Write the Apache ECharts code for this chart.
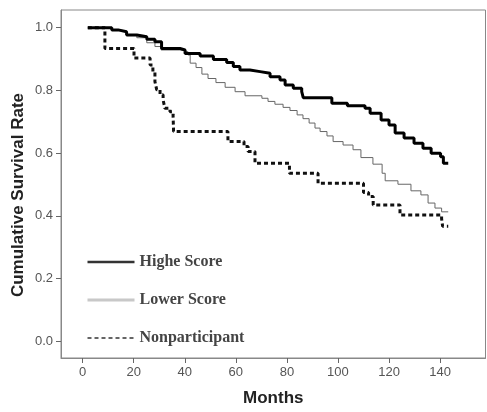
<!DOCTYPE html>
<html>
<head>
<meta charset="utf-8">
<script src="https://cdn.jsdelivr.net/npm/echarts@6/dist/echarts.min.js"></script>
<style>
  html, body { margin: 0; padding: 0; background: #fff; }
  #chart { width: 487px; height: 412px; }
</style>
</head>
<body>
<div id="chart"></div>
<script>
// Kaplan-Meier style survival curves (months vs cumulative survival)
const xTicks = [0, 20, 40, 60, 80, 100, 120, 140];
const yTicks = [0.0, 0.2, 0.4, 0.6, 0.8, 1.0];

const seriesNames = ['Highe Score', 'Lower Score', 'Nonparticipant'];

const highMonths = [2, 11.4, 13.9, 17.2, 21.2, 25.1, 28.3, 30.9, 38.1, 40.1, 46, 51.2, 56.4, 59, 61.6, 65.5, 69.5, 73.4, 77.3, 79.3, 82.5, 85.8, 86.4, 97.6, 103.7, 110.6, 112.6, 116.9, 120, 122.4, 125.9, 129.8, 133.3, 136.5, 140.2, 141.3, 143.2];
const highSurv = [1.0, 0.993, 0.987, 0.977, 0.971, 0.963, 0.955, 0.934, 0.929, 0.918, 0.91, 0.899, 0.889, 0.876, 0.865, 0.86, 0.855, 0.844, 0.833, 0.817, 0.807, 0.796, 0.777, 0.759, 0.751, 0.743, 0.727, 0.706, 0.69, 0.664, 0.648, 0.632, 0.616, 0.6, 0.589, 0.568, 0.568];

const lowMonths = [2, 11.4, 13.9, 17.2, 21.2, 25.1, 28.3, 30.7, 38.1, 41.3, 42.1, 44.4, 46.7, 49.1, 52.2, 55.8, 59.7, 63.6, 70.2, 72.6, 75.3, 78.5, 81.2, 84, 86.3, 88.7, 91, 93, 95.7, 98.1, 102, 105.9, 109, 113.7, 117.3, 118.5, 123.5, 128.6, 132.5, 135.3, 138, 140.6, 143.2];
const lowSurv = [1.0, 0.993, 0.987, 0.977, 0.968, 0.952, 0.94, 0.929, 0.923, 0.913, 0.887, 0.873, 0.852, 0.838, 0.825, 0.81, 0.796, 0.783, 0.775, 0.765, 0.756, 0.746, 0.736, 0.722, 0.71, 0.696, 0.68, 0.669, 0.655, 0.637, 0.626, 0.611, 0.586, 0.565, 0.536, 0.512, 0.501, 0.48, 0.467, 0.441, 0.425, 0.413, 0.413];

const nonMonths = [2, 8.7, 20.1, 26.4, 27.5, 28.3, 29, 30.3, 31.5, 32.2, 34.2, 35.4, 35.6, 56.9, 63.2, 64.8, 67.5, 81, 92.2, 110, 112, 113.8, 124.3, 140.6, 141, 143.2];
const nonSurv = [1.0, 0.934, 0.903, 0.881, 0.86, 0.828, 0.802, 0.786, 0.77, 0.743, 0.732, 0.722, 0.669, 0.637, 0.621, 0.605, 0.568, 0.536, 0.504, 0.475, 0.462, 0.435, 0.403, 0.391, 0.367, 0.367];

function pairs(xs, ys) { return xs.map((x, i) => [x, ys[i]]); }

const chart = echarts.init(document.getElementById('chart'), null, { renderer: 'canvas' });

const tickFont = { color: '#555', fontFamily: 'Liberation Sans, Arial, sans-serif', fontSize: 13 };
const noMarker = { color: 'transparent', borderWidth: 0, opacity: 0 };

chart.setOption({
  animation: false,
  backgroundColor: '#fff',
  grid: {
    left: 61, top: 10, width: 424.5, height: 348.3,
    show: true, borderColor: '#888', borderWidth: 1, backgroundColor: 'transparent'
  },
  xAxis: {
    type: 'value',
    min: -8.5, max: 157.8,
    name: 'Months',
    nameLocation: 'middle',
    nameGap: 32,
    nameTextStyle: { color: '#222', fontFamily: 'Liberation Sans, Arial, sans-serif', fontSize: 17, fontWeight: 'bold' },
    axisLine: { show: true, onZero: false, lineStyle: { color: '#888', width: 1 } },
    axisTick: { show: true, length: 5, lineStyle: { color: '#666' }, customValues: xTicks },
    axisLabel: Object.assign({ margin: 8, customValues: xTicks, formatter: v => String(v) }, tickFont),
    splitLine: { show: false }
  },
  yAxis: {
    type: 'value',
    min: -0.0529, max: 1.0564,
    axisLine: { show: true, onZero: false, lineStyle: { color: '#888', width: 1 } },
    axisTick: { show: true, length: 5, lineStyle: { color: '#666' }, customValues: yTicks },
    axisLabel: Object.assign({ margin: 8, customValues: yTicks, formatter: v => v.toFixed(1) }, tickFont),
    splitLine: { show: false }
  },
  legend: {
    orient: 'vertical',
    left: 81, top: 249,
    itemWidth: 47, itemHeight: 16, itemGap: 22,
    textStyle: { color: '#444', fontFamily: 'Liberation Serif, Times New Roman, serif', fontSize: 16, fontWeight: 'bold', lineHeight: 16 },
    data: [
      { name: seriesNames[0], itemStyle: noMarker, lineStyle: { color: '#333', width: 2.5 } },
      { name: seriesNames[1], itemStyle: noMarker, lineStyle: { color: '#c8c8c8', width: 3 } },
      { name: seriesNames[2], itemStyle: noMarker, lineStyle: { color: '#333', width: 1.5, type: [4, 3] } }
    ]
  },
  graphic: [{
    type: 'text',
    x: 18, y: 195,
    rotation: Math.PI / 2,
    style: {
      text: 'Cumulative Survival Rate',
      fill: '#222',
      font: 'bold 17px "Liberation Sans", Arial, sans-serif',
      textAlign: 'center',
      textVerticalAlign: 'middle'
    }
  }],
  series: [
    {
      name: seriesNames[2], type: 'line', step: 'end', symbol: 'none',
      data: pairs(nonMonths, nonSurv),
      itemStyle: { color: '#111' },
      lineStyle: { color: '#111', width: 3, type: [4, 3], cap: 'butt' }, z: 2
    },
    {
      name: seriesNames[1], type: 'line', step: 'end', symbol: 'none',
      data: pairs(lowMonths, lowSurv),
      itemStyle: { color: '#666' },
      lineStyle: { color: '#666', width: 1 }, z: 3
    },
    {
      name: seriesNames[0], type: 'line', step: 'end', symbol: 'none',
      data: pairs(highMonths, highSurv),
      itemStyle: { color: '#000' },
      lineStyle: { color: '#000', width: 3 }, z: 4
    }
  ]
});
</script>
</body>
</html>
